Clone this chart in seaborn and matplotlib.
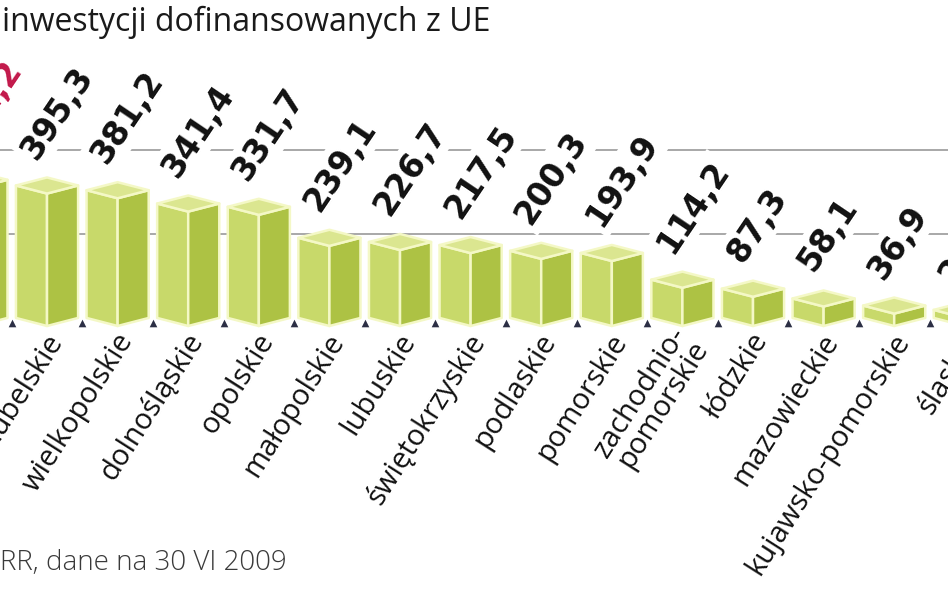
import seaborn as sns
import matplotlib.pyplot as plt
import numpy as np
import pandas as pd
from matplotlib.patches import Polygon

# Regions (the picture is a crop: first and last bar are only partly visible)
regions = [
    'podkarpackie', 'lubelskie', 'wielkopolskie', 'dolnośląskie', 'opolskie',
    'małopolskie', 'lubuskie', 'świętokrzyskie', 'podlaskie', 'pomorskie',
    'zachodnio-\npomorskie', 'łódzkie', 'mazowieckie', 'kujawsko-pomorskie', 'śląskie'
]
values = [412.2, 395.3, 381.2, 341.4, 331.7, 239.1, 226.7, 217.5, 200.3,
          193.9, 114.2, 87.3, 58.1, 36.9, 24.0]
highlight = 'podkarpackie'
grid_values = [250, 500]

title = 'inwestycji dofinansowanych z UE'
source = 'RR, dane na 30 VI 2009'

df = pd.DataFrame({'region': regions, 'value': values})

sns.set_style('white')
plt.rcParams['font.family'] = ['Open Sans', 'DejaVu Sans']

fig = plt.figure(figsize=(9.48, 5.93), dpi=100)
ax = fig.add_axes([0, 0, 1, 1])

sns.barplot(data=df, x='region', y='value', ax=ax, width=0.88,
            color='#c9da6b', errorbar=None)

left_col = '#c8d96a'
right_col = '#adc244'
top_col = '#dbe690'
edge_col = '#f4f8c6'
depth = 24  # 3d offset in data units

for bar, name, v in zip(ax.patches, regions, values):
    x0 = bar.get_x()
    w = bar.get_width()
    h = bar.get_height()
    xc = x0 + w / 2
    x1 = x0 + w
    bar.set_alpha(0)
    faces = [
        ([(x0, depth), (xc, 0), (xc, h), (x0, h + depth)], left_col),
        ([(xc, 0), (x1, depth), (x1, h + depth), (xc, h)], right_col),
        ([(x0, h + depth), (xc, h), (x1, h + depth), (xc, h + 2 * depth)], top_col),
    ]
    for pts, col in faces:
        ax.add_patch(Polygon(pts, closed=True, facecolor=col, edgecolor=edge_col,
                             linewidth=1.8, zorder=2, joinstyle='round'))

    # value label
    txt = f'{v:.1f}'.replace('.', ',')
    ax.text(xc - 0.15, h + 2 * depth + 50, txt, rotation=56, rotation_mode='anchor',
            ha='left', va='baseline', fontsize=23.5, fontweight='bold',
            family=['DejaVu Sans'],
            color='#c2184a' if name == highlight else '#111111', zorder=4,
            bbox=dict(facecolor='white', edgecolor='none', pad=3))

    # category label
    ax.text(xc + 0.13, -30, name, rotation=57.5, rotation_mode='anchor',
            ha='right', va='center', multialignment='right', linespacing=0.85,
            fontsize=21, color='#111111', zorder=4)

# small dark marks between bars on the base line
gaps = np.arange(len(regions)) + 0.5
ax.scatter(gaps - 1, np.full(len(gaps), depth * 0.35), marker='^', s=30,
           color='#2c2f45', zorder=1, linewidths=0)

# horizontal guide lines on the back wall
for g in grid_values:
    ax.axhline(g + depth, color='#a8a8a8', linewidth=1.4, zorder=0)

ax.set_xlim(0.334, 13.762)
ax.set_ylim(-797, 973)
ax.axis('off')

fig.text(0.002, 1 - 31 / 593, title, fontsize=23, color='#1a1a1a', va='baseline', ha='left')
fig.text(0.0, 1 - 570 / 593, source, fontsize=20, color='#3a3a3a', va='baseline', ha='left',
         fontweight='light')

fig.savefig('out.png', dpi=100, facecolor='white')
